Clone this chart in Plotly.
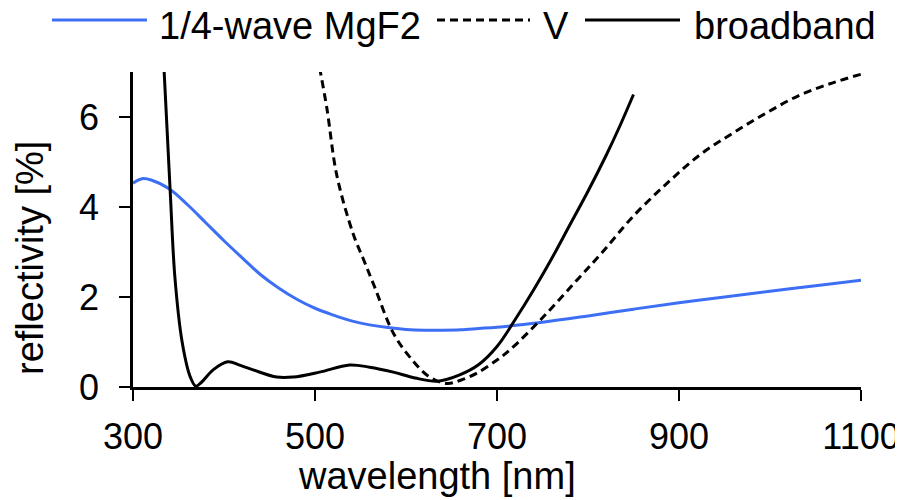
import plotly.graph_objects as go

# ---- data ----
mgf2_nm = [300, 310, 320, 340, 360, 380, 400, 420, 440, 460, 480, 500, 520, 540, 560,
           580, 600, 620, 640, 660, 680, 700, 750, 800, 850, 900, 950, 1000, 1050, 1100]
mgf2_r = [4.53, 4.63, 4.6, 4.4, 4.05, 3.65, 3.25, 2.87, 2.5, 2.2, 1.95, 1.75, 1.6, 1.47, 1.38,
          1.32, 1.28, 1.26, 1.26, 1.27, 1.3, 1.33, 1.44, 1.58, 1.73, 1.87, 2.0, 2.13, 2.25, 2.37]

v_nm = [505, 513, 524, 542, 553, 565, 586, 604, 626, 645, 660, 678, 700, 714, 751, 788,
        816, 849, 887, 923, 959, 996, 1033, 1069, 1100]
v_r = [7.1, 6.2, 4.7, 3.4, 2.85, 2.25, 1.2, 0.67, 0.22, 0.08, 0.15, 0.31, 0.6, 0.82, 1.56, 2.38,
       3.0, 3.78, 4.53, 5.16, 5.64, 6.09, 6.49, 6.76, 6.95]

bb_nm = [334, 341, 346, 354, 363, 369, 375, 388, 404, 418, 432, 458, 476, 505, 538, 560,
         586, 610, 635, 659, 680, 700, 720, 740, 760, 780, 800, 820, 835, 850]
bb_r = [7.1, 4.3, 2.45, 1.0, 0.22, 0.02, 0.1, 0.38, 0.56, 0.48, 0.38, 0.22, 0.22, 0.33, 0.49, 0.44,
        0.33, 0.2, 0.13, 0.27, 0.5, 0.9, 1.5, 2.15, 2.85, 3.6, 4.35, 5.15, 5.8, 6.5]

x_ticks = [300, 500, 700, 900, 1100]
y_ticks = [0, 2, 4, 6]
series_names = ["1/4-wave MgF2", "V", "broadband"]
x_title = "wavelength [nm]"
y_title = "reflectivity [%]"

FONT = "Liberation Sans, Helvetica, Arial, sans-serif"
BLUE = "#3d6ff5"

fig = go.Figure()
fig.add_trace(go.Scatter(x=mgf2_nm, y=mgf2_r, mode="lines", name=series_names[0],
                         line=dict(color=BLUE, width=3, shape="spline"), showlegend=False))
fig.add_trace(go.Scatter(x=v_nm, y=v_r, mode="lines", name=series_names[1],
                         line=dict(color="black", width=3, dash="8px,5px", shape="spline"),
                         showlegend=False))
fig.add_trace(go.Scatter(x=bb_nm, y=bb_r, mode="lines", name=series_names[2],
                         line=dict(color="black", width=3, shape="spline"), showlegend=False))

# page has an 8px body margin: the figure is 895x492, placed at (8, 8)
OFF = 8
W, H = 903 - OFF, 500 - OFF
L, R, T, B = 133 - OFF, 903 - 861, 72 - OFF, 500 - 387
pw, ph = W - L - R, H - T - B


def px(x):  # page pixel -> paper fraction
    return (x - OFF - L) / pw


def py(y):
    return (H - B - (y - OFF)) / ph


# manual legend (long line samples like the reference)
legend_items = [
    (52, 147, dict(color=BLUE, width=3), 157, series_names[0]),
    (437, 530, dict(color="black", width=3, dash="8px,5px"), 541, series_names[1]),
    (585, 680, dict(color="black", width=3), 692, series_names[2]),
]
shapes = []
annotations = []
for x0, x1, ln, tx, name in legend_items:
    shapes.append(dict(type="line", xref="paper", yref="paper", x0=px(x0), x1=px(x1),
                       y0=py(20), y1=py(20), line=ln))
    annotations.append(dict(text=name, xref="paper", yref="paper", x=px(tx), y=py(26),
                            xanchor="left", yanchor="middle", showarrow=False,
                            font=dict(size=38, color="black", family=FONT)))

annotations.append(dict(text=x_title, xref="paper", yref="paper", x=px(437), y=py(476),
                        xanchor="center", yanchor="middle", showarrow=False,
                        font=dict(size=38, color="black", family=FONT)))
annotations.append(dict(text=y_title, xref="paper", yref="paper", x=px(30), y=py(258),
                        xanchor="center", yanchor="middle", showarrow=False, textangle=-90,
                        font=dict(size=38, color="black", family=FONT)))

fig.update_layout(
    width=W, height=H,
    margin=dict(l=L, r=R, t=T, b=B, autoexpand=False),
    paper_bgcolor="white", plot_bgcolor="white",
    font=dict(family=FONT, size=36, color="black"),
    shapes=shapes, annotations=annotations,
    showlegend=False,
)
fig.update_xaxes(range=[300, 1100], tickvals=x_ticks, ticks="outside", ticklen=11, tickwidth=2,
                 tickcolor="black", showline=True, linecolor="black", linewidth=2.5,
                 showgrid=False, zeroline=False, ticklabelstandoff=5, automargin=False,
                 ticklabeloverflow="allow",
                 tickfont=dict(size=36, family=FONT))
fig.update_yaxes(range=[0, 7], tickvals=y_ticks, ticks="outside", ticklen=11, tickwidth=2,
                 tickcolor="black", showline=True, linecolor="black", linewidth=2.5,
                 showgrid=False, zeroline=False, ticklabelstandoff=13, automargin=False,
                 ticklabeloverflow="allow",
                 tickfont=dict(size=36, family=FONT))

fig.write_html("out.html")
